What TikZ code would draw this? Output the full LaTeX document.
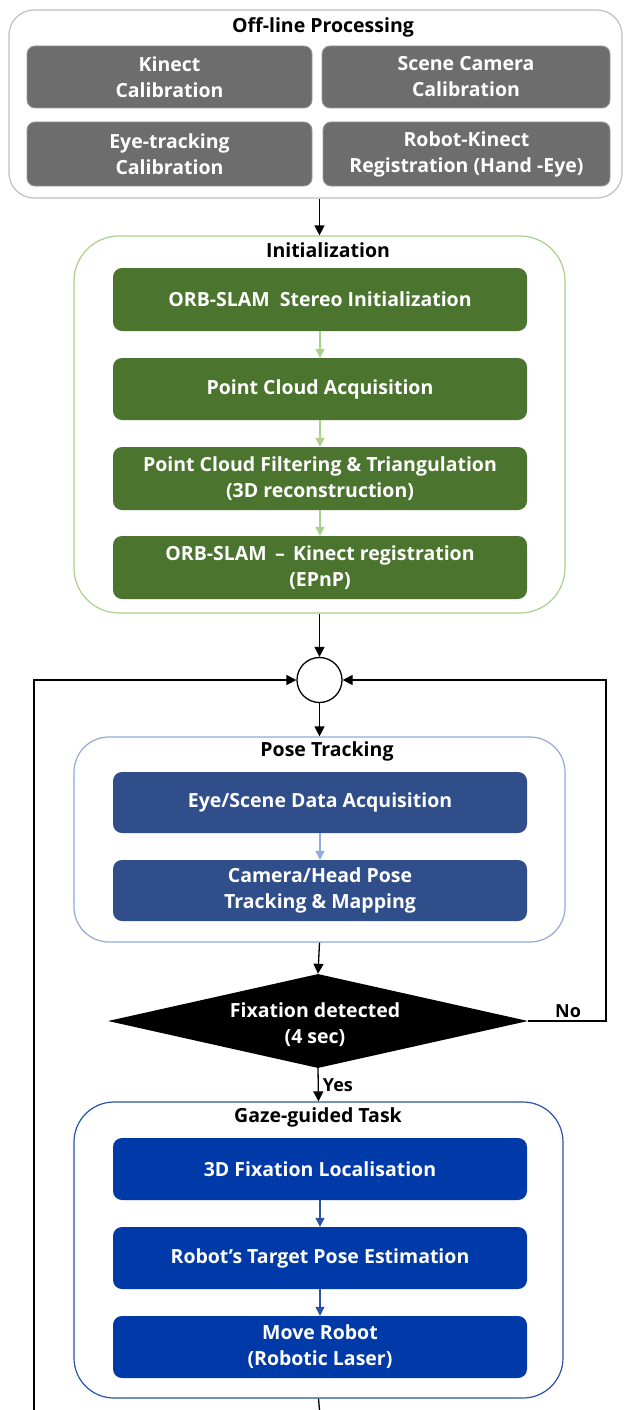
\documentclass[tikz,border=0pt]{standalone}
\usepackage{fontspec}
\setmainfont{Open Sans}
\usetikzlibrary{arrows.meta,shapes.geometric}
\definecolor{greyfill}{HTML}{6D6D6D}
\definecolor{greyline}{HTML}{BFBFBF}
\definecolor{greenfill}{HTML}{4B742F}
\definecolor{greenline}{HTML}{A9D18E}
\definecolor{posefill}{HTML}{2F4E8A}
\definecolor{poseline}{HTML}{8FAADC}
\definecolor{gazefill}{HTML}{0039A8}
\definecolor{gazeline}{HTML}{2A52A8}
\tikzset{
  x=1pt, y=-1pt,
  every node/.style={font=\bfseries\fontsize{19.5}{26}\selectfont, align=center, inner sep=0pt},
  group/.style={draw, line width=1.2pt, fill=white},
  title/.style={text=black},
  stepbox/.style={minimum width=414pt, minimum height=62pt, rounded corners=9pt, text=white},
  greybox/.style={fill=greyfill, draw=greyfill!70!white, line width=0.8pt, rounded corners=8pt, text=white},
  arr/.style={line width=1.3pt, -{Triangle[length=10pt,width=10pt]}},
  inarr/.style={line width=1.3pt, -{Triangle[length=9pt,width=9pt]}},
  smalllabel/.style={font=\bfseries\fontsize{18}{22}\selectfont},
}
\begin{document}
\begin{tikzpicture}
\useasboundingbox (0,0) rectangle (624,1410);

% ---------- off-line processing ----------
\node[group, draw=greyline, rounded corners=25pt, minimum width=613pt, minimum height=188pt] (off) at (315.5,104) {};
\node[title] (offT) at (323,27) {Off-line Processing};
\node[greybox, minimum width=285pt, minimum height=62pt] (k1) at (169.5,77) {Kinect\\Calibration};
\node[greybox, minimum width=288pt, minimum height=62pt] (k2) at (466,77) {Scene Camera\\Calibration};
\node[greybox, minimum width=285pt, minimum height=64pt] (k3) at (169.5,154) {Eye-tracking\\Calibration};
\node[greybox, minimum width=287pt, minimum height=64pt] (k4) at (466.5,154) {Robot-Kinect\\Registration (Hand -Eye)};

% ---------- initialization ----------
\node[group, draw=greenline, rounded corners=45pt, minimum width=491pt, minimum height=377pt] (init) at (319.5,424.5) {};
\node[title] (initT) at (328,250) {Initialization};
\node[stepbox, fill=greenfill, minimum height=63pt] (g1) at (320,299.5) {ORB-SLAM\ \ Stereo Initialization};
\node[stepbox, fill=greenfill] (g2) at (320,389) {Point Cloud Acquisition};
\node[stepbox, fill=greenfill, minimum height=63pt] (g3) at (320,478.5) {Point Cloud Filtering \& Triangulation\\(3D reconstruction)};
\node[stepbox, fill=greenfill, minimum height=63pt] (g4) at (320,567.5) {ORB-SLAM \,–\, Kinect registration\\(EPnP)};
\draw[inarr, greenline] (g1) -- (g2);
\draw[inarr, greenline] (g2) -- (g3);
\draw[inarr, greenline] (g3) -- (g4);

% ---------- junction ----------
\node[draw, circle, line width=1.3pt, minimum size=45pt, fill=white] (circ) at (319.5,680) {};

% ---------- pose tracking ----------
\node[group, draw=poseline, rounded corners=35pt, minimum width=491pt, minimum height=205pt] (pose) at (319.5,839.5) {};
\node[title] (poseT) at (327,751) {Pose Tracking};
\node[stepbox, fill=posefill, minimum height=61pt] (b1) at (320,802.5) {Eye/Scene Data Acquisition};
\node[stepbox, fill=posefill, minimum height=61pt] (b2) at (320,890.5) {Camera/Head Pose\\Tracking \& Mapping};
\draw[inarr, poseline] (b1) -- (b2);

% ---------- decision ----------
\node[diamond, fill=black, text=white, minimum width=420pt, minimum height=94pt] (dia) at (318,1021) {};
\node[text=white] (diaT) at (315,1024.5) {Fixation detected\\(4 sec)};

% ---------- gaze-guided task ----------
\node[group, draw=gazeline, rounded corners=40pt, minimum width=489pt, minimum height=296pt] (gaze) at (318.5,1250) {};
\node[title] (gazeT) at (318,1117) {Gaze-guided Task};
\node[stepbox, fill=gazefill] (r1) at (320,1169) {3D Fixation Localisation};
\node[stepbox, fill=gazefill] (r2) at (320,1258) {Robot’s Target Pose Estimation};
\node[stepbox, fill=gazefill] (r3) at (320,1347) {Move Robot\\(Robotic Laser)};
\draw[inarr, gazeline] (r1) -- (r2);
\draw[inarr, gazeline] (r2) -- (r3);

% ---------- main flow ----------
\coordinate (nR) at (606,1021);
\coordinate (lB) at (34,1410);
\coordinate (gB) at (319.5,1410);
\draw[arr] (init.north |- off.south) -- (init.north);
\draw[arr] (init.south) -- (circ.north);
\draw[arr] (circ.south) -- (pose.north);
\draw[arr] (pose.south) -- (dia.north);
\draw[arr] (dia.south) -- node[right=4pt, smalllabel] (yes) {Yes} (gaze.north);
\draw[arr] (dia.east) -- (nR) |- (circ.east);
\node[smalllabel] (no) at (568,1011) {No};
\draw[arr] (lB) |- (circ.west);
\draw[line width=1.3pt] (gaze.south) -- (gB);
\end{tikzpicture}
\end{document}
